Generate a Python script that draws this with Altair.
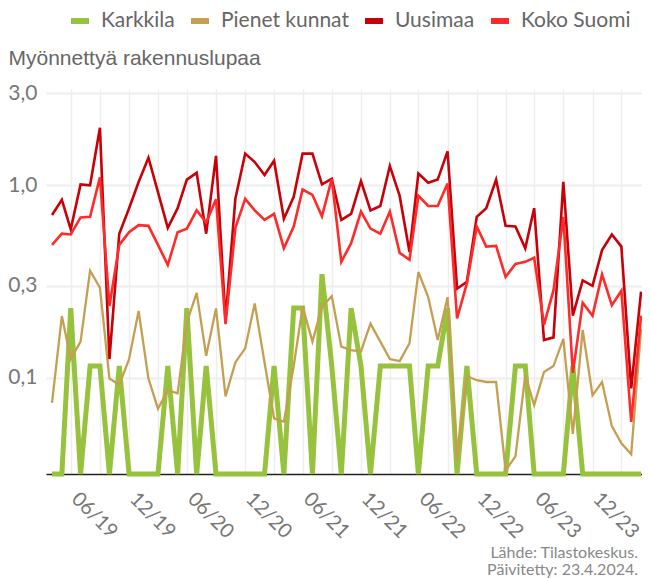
import altair as alt
import pandas as pd

# Monthly observations, January 2019 - February 2024
months = pd.date_range("2019-01-01", periods=62, freq="MS").strftime("%Y-%m-%d").tolist()

series_names = ["Karkkila", "Pienet kunnat", "Uusimaa", "Koko Suomi"]
series_colors = ["#97c23d", "#c49f52", "#c80008", "#ff2a2a"]
series_widths = [5.0, 2.3, 2.6, 2.6]

karkkila = [0, 0, 0.23, 0, 0.115, 0.115, 0, 0.115, 0, 0,
            0, 0, 0.115, 0, 0.23, 0, 0.115, 0, 0, 0,
            0, 0, 0, 0.115, 0, 0.23, 0.23, 0, 0.345, 0.115,
            0, 0.23, 0.115, 0, 0.115, 0.115, 0.115, 0.115, 0, 0.115,
            0.115, 0.23, 0, 0.115, 0, 0, 0, 0, 0.115, 0.115,
            0, 0, 0, 0, 0.115, 0, 0, 0, 0, 0,
            0, 0]

pienet_kunnat = [0.074, 0.209, 0.125, 0.154, 0.36, 0.294, 0.099, 0.092, 0.125, 0.222,
                 0.099, 0.069, 0.086, 0.083, 0.193, 0.276, 0.130, 0.229, 0.080, 0.120,
                 0.142, 0.243, 0.12, 0.0615, 0.059, 0.115, 0.234, 0.154, 0.234, 0.265,
                 0.145, 0.139, 0.137, 0.191, 0.154, 0.125, 0.122, 0.151, 0.354, 0.262,
                 0.157, 0.262, 0.037, 0.102, 0.097, 0.095, 0.095, 0.033, 0.039, 0.103,
                 0.072, 0.107, 0.115, 0.159, 0.051, 0.177, 0.081, 0.095, 0.056, 0.0456,
                 0.040, 0.18]

uusimaa = [0.70, 0.84, 0.59, 1.01, 1.00, 1.99, 0.125, 0.56, 0.76, 1.04,
           1.39, 0.92, 0.60, 0.76, 1.07, 1.16, 0.56, 1.42, 0.20, 0.85,
           1.46, 1.32, 1.13, 1.34, 0.67, 0.87, 1.46, 1.46, 1.01, 1.08,
           0.66, 0.71, 1.05, 0.74, 0.78, 1.26, 0.88, 0.45, 1.15, 1.03,
           1.07, 1.50, 0.29, 0.315, 0.685, 0.76, 1.07, 0.615, 0.61, 0.47,
           0.76, 0.157, 0.162, 1.04, 0.21, 0.32, 0.30, 0.46, 0.555, 0.48,
           0.088, 0.28]

koko_suomi = [0.49, 0.56, 0.555, 0.68, 0.685, 1.10, 0.236, 0.49, 0.57, 0.62,
              0.615, 0.49, 0.385, 0.57, 0.595, 0.74, 0.64, 0.845, 0.19, 0.60,
              0.85, 0.74, 0.66, 0.71, 0.47, 0.61, 0.95, 0.89, 0.69, 1.08,
              0.40, 0.50, 0.73, 0.595, 0.56, 0.73, 0.445, 0.41, 0.88, 0.78,
              0.78, 1.02, 0.203, 0.31, 0.61, 0.48, 0.484, 0.334, 0.39, 0.40,
              0.42, 0.188, 0.285, 0.685, 0.106, 0.245, 0.21, 0.344, 0.238, 0.283,
              0.059, 0.21]

y_ticks = [0.1, 0.3, 1.0, 3.0]
y_min, y_max = 0.0316, 3.162

values_by_series = [karkkila, pienet_kunnat, uusimaa, koko_suomi]
rows = []
for name, vals in zip(series_names, values_by_series):
    for m, v in zip(months, vals):
        rows.append({"kk": m, "sarja": name, "arvo": v})
df = pd.DataFrame(rows)

grid_dates = [alt.DateTime(year=y, month=m, date=1, utc=True)
              for y in range(2019, 2024) for m in (3, 6, 9, 12)]

x_enc = alt.X(
    "kk:T",
    scale=alt.Scale(type="utc",
                    domain=[alt.DateTime(year=2018, month=12, date=13, utc=True),
                            alt.DateTime(year=2024, month=2, date=4, utc=True)]),
    axis=alt.Axis(
        values=grid_dates,
        labelExpr="(utcmonth(datum.value) == 5 || utcmonth(datum.value) == 11) ? utcFormat(datum.value, '%m/%y') : ''",
        labelAngle=45, labelAlign="center", labelBaseline="middle",
        labelPadding=41, labelOffset=-6, labelOverlap=False, labelFlush=False,
        labelFont="Lato", labelFontSize=20, labelColor="#777777",
        grid=True, gridColor="#eeeeee", gridWidth=1.5,
        ticks=False, domain=True, domainColor="#222222", domainWidth=1.5,
        title=None,
    ),
)

y_enc = alt.Y(
    "yv:Q",
    scale=alt.Scale(type="log", domain=[y_min, y_max], nice=False),
    axis=alt.Axis(
        values=y_ticks,
        labelExpr="replace(format(datum.value, '.1f'), '.', ',')",
        title="Myönnettyä rakennuslupaa",
        titleAngle=0, titleAlign="left", titleBaseline="middle",
        titleX=-38, titleY=-31,
        titleFont="Liberation Sans", titleFontSize=21, titleFontWeight="normal",
        titleColor="#666666",
        labelFont="Lato", labelFontSize=21, labelColor="#777777", labelPadding=9,
        ticks=False, domain=False, grid=True, gridColor="#eeeeee", gridWidth=2,
    ),
)

color_enc = alt.Color(
    "sarja:N",
    scale=alt.Scale(domain=series_names, range=series_colors),
    legend=alt.Legend(
        orient="none", legendX=22, legendY=-80, direction="horizontal",
        title=None, symbolType="stroke", symbolStrokeWidth=6, symbolSize=324,
        labelFont="Lato", labelFontSize=21, labelColor="#666666",
        labelOffset=9, columnPadding=4,
    ),
)

layers = []
for name, w in zip(series_names, series_widths):
    layers.append(
        alt.Chart(df)
        .transform_filter(alt.datum.sarja == name)
        .transform_calculate(yv=f"max(datum.arvo, {y_min})")
        .mark_line(strokeWidth=w)
        .encode(x=x_enc, y=y_enc, color=color_enc)
    )

chart = (
    alt.layer(*layers)
    .properties(
        width=596, height=385,
        autosize=alt.AutoSizeParams(type="none"),
        padding={"left": 38, "top": 81, "right": 0, "bottom": 105},
        title=alt.TitleParams(
            text=["Lähde: Tilastokeskus.", "Päivitetty: 23.4.2024."],
            orient="bottom", anchor="end", frame="group", font="Lato", fontSize=16,
            fontWeight="normal", color="#888888", lineHeight=17, offset=3,
            dx=-4,
        ),
    )
    .configure_view(stroke=None)
)

chart.save("out.html", embed_options={"renderer": "svg", "actions": False})
